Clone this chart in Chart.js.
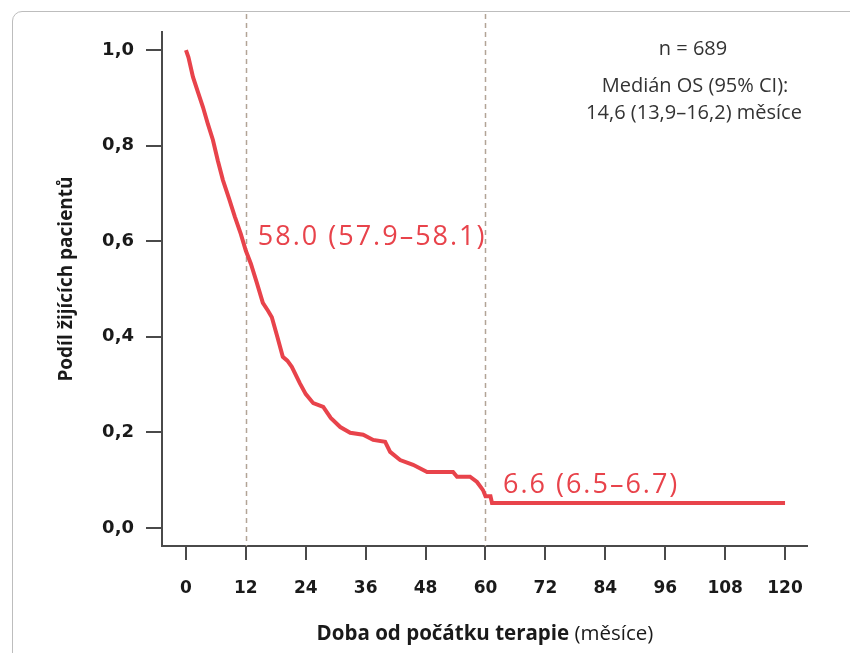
<!DOCTYPE html>
<html>
<head>
<meta charset="utf-8">
<script src="https://cdn.jsdelivr.net/npm/chart.js@4.4.1/dist/chart.umd.min.js"></script>
<style>
  html, body { margin: 0; padding: 0; background: #fff; overflow: hidden; }
  #wrap { position: relative; width: 850px; height: 653px; }
  #frame { position: absolute; left: 12px; top: 11px; width: 900px; height: 700px;
           border: 1.5px solid #bdbdbd; border-radius: 10px; }
  #c { position: absolute; left: 0; top: 0; }
</style>
</head>
<body>
<div id="wrap">
  <div id="frame"></div>
  <canvas id="c" width="850" height="653"></canvas>
</div>
<script>
// Kaplan-Meier
const mesice = [0, 0.5, 1.4, 2.4, 3.4, 4.4, 5.4, 6.4, 7.4, 8.6, 9.8, 11.0, 12.0, 13.0, 14.2,
  15.4, 16.4, 17.2, 18.3, 19.4, 20.3, 21.2, 22.8, 24.0, 25.5, 27.5, 29.0, 30.9, 32.9, 35.5,
  37.5, 39.9, 40.9, 42.9, 45.5, 48.3, 53.5, 54.3, 56.9, 58.3, 59.5, 60.0, 61.0, 61.3, 120];
const preziti = [1.000, 0.985, 0.944, 0.912, 0.881, 0.845, 0.812, 0.768, 0.728, 0.690, 0.651,
  0.615, 0.580, 0.553, 0.513, 0.471, 0.455, 0.441, 0.400, 0.358, 0.350, 0.337, 0.303, 0.280,
  0.261, 0.253, 0.230, 0.211, 0.199, 0.195, 0.184, 0.180, 0.159, 0.142, 0.132, 0.117, 0.117,
  0.107, 0.107, 0.096, 0.079, 0.066, 0.066, 0.052, 0.052];

const xTicks = [0, 12, 24, 36, 48, 60, 72, 84, 96, 108, 120];
const yTicks = [0, 0.2, 0.4, 0.6, 0.8, 1.0];
const milniky = [12, 60];
const popisky = [
  { x: 14.4, y: 0.609, text: "58.0 (57.9–58.1)" },
  { x: 63.5, y: 0.090, text: "6.6 (6.5–6.7)" }
];
const infoText = ["n = 689", "Medián OS (95% CI):", "14,6 (13,9–16,2) měsíce"];

const cervena = "#e8434b";

const doplnky = {
  id: "doplnky",
  beforeDatasetsDraw(chart) {
    const { ctx, scales } = chart;
    ctx.save();
    ctx.strokeStyle = "#b2a496";
    ctx.lineWidth = 1.5;
    ctx.setLineDash([5, 4]);
    milniky.forEach(m => {
      const px = Math.round(scales.x.getPixelForValue(m)) + 0.5;
      ctx.beginPath();
      ctx.moveTo(px, 14);
      ctx.lineTo(px, chart.chartArea.bottom);
      ctx.stroke();
    });
    ctx.restore();
  },
  afterDraw(chart) {
    const { ctx, scales } = chart;
    ctx.save();
    // popisky u křivky
    ctx.fillStyle = cervena;
    ctx.font = "27px 'Open Sans'";
    ctx.letterSpacing = "2px";
    ctx.textBaseline = "middle";
    ctx.textAlign = "left";
    popisky.forEach(p => {
      ctx.fillText(p.text, scales.x.getPixelForValue(p.x), scales.y.getPixelForValue(p.y));
    });
    ctx.letterSpacing = "0px";
    // info vpravo nahoře
    ctx.fillStyle = "#333";
    ctx.font = "20px 'Open Sans'";
    ctx.textAlign = "center";
    ctx.textBaseline = "alphabetic";
    ctx.fillText(infoText[0], 693, 55);
    ctx.fillText(infoText[1], 695, 92);
    ctx.fillText(infoText[2], 694, 119);
    // název osy x
    const bold = "Doba od počátku terapie";
    const norm = " (měsíce)";
    ctx.fillStyle = "#1a1a1a";
    ctx.textBaseline = "middle";
    ctx.font = "bold 20.5px 'Open Sans'";
    const wb = ctx.measureText(bold).width;
    ctx.font = "20.5px 'Open Sans'";
    const wn = ctx.measureText(norm).width;
    const x0 = 485 - (wb + wn) / 2;
    ctx.textAlign = "left";
    ctx.font = "bold 20.5px 'Open Sans'";
    ctx.fillText(bold, x0, 634);
    ctx.font = "20.5px 'Open Sans'";
    ctx.fillText(norm, x0 + wb, 634);
    // název osy y
    ctx.translate(67, 279);
    ctx.rotate(-Math.PI / 2);
    ctx.textAlign = "center";
    ctx.font = "bold 19px 'Open Sans'";
    ctx.fillText("Podíl žijících pacientů", 0, 0);
    ctx.restore();
  }
};

new Chart(document.getElementById("c").getContext("2d"), {
  type: "line",
  data: {
    datasets: [{
      data: mesice.map((m, i) => ({ x: m, y: preziti[i] })),
      borderColor: cervena,
      borderWidth: 4,
      pointRadius: 0,
      tension: 0,
      fill: false
    }]
  },
  options: {
    responsive: false,
    animation: false,
    layout: { padding: { left: 0, right: 43, top: 32, bottom: 0 } },
    plugins: { legend: { display: false }, tooltip: { enabled: false } },
    scales: {
      x: {
        type: "linear",
        min: -4.8,
        max: 124.4,
        afterBuildTicks: s => { s.ticks = xTicks.map(v => ({ value: v })); },
        afterFit: s => { s.height = 107; },
        border: { display: true, color: "#4a4a4a", width: 2 },
        grid: { drawOnChartArea: false, drawTicks: true, tickLength: 14, color: "#4a4a4a", lineWidth: 2 },
        ticks: { color: "#1a1a1a", padding: 18, maxRotation: 0, font: { family: "'DejaVu Sans'", size: 17, weight: "bold" } }
      },
      y: {
        type: "linear",
        min: -0.038,
        max: 1.038,
        afterBuildTicks: s => { s.ticks = yTicks.map(v => ({ value: v })); },
        afterFit: s => { s.width = 162; },
        border: { display: true, color: "#4a4a4a", width: 2 },
        grid: { drawOnChartArea: false, drawTicks: true, tickLength: 16, color: "#4a4a4a", lineWidth: 2 },
        ticks: {
          color: "#1a1a1a", padding: 12,
          font: { family: "'DejaVu Sans'", size: 18, weight: "bold" },
          callback: v => v.toFixed(1).replace(".", ",")
        }
      }
    }
  },
  plugins: [doplnky]
});
</script>
</body>
</html>
